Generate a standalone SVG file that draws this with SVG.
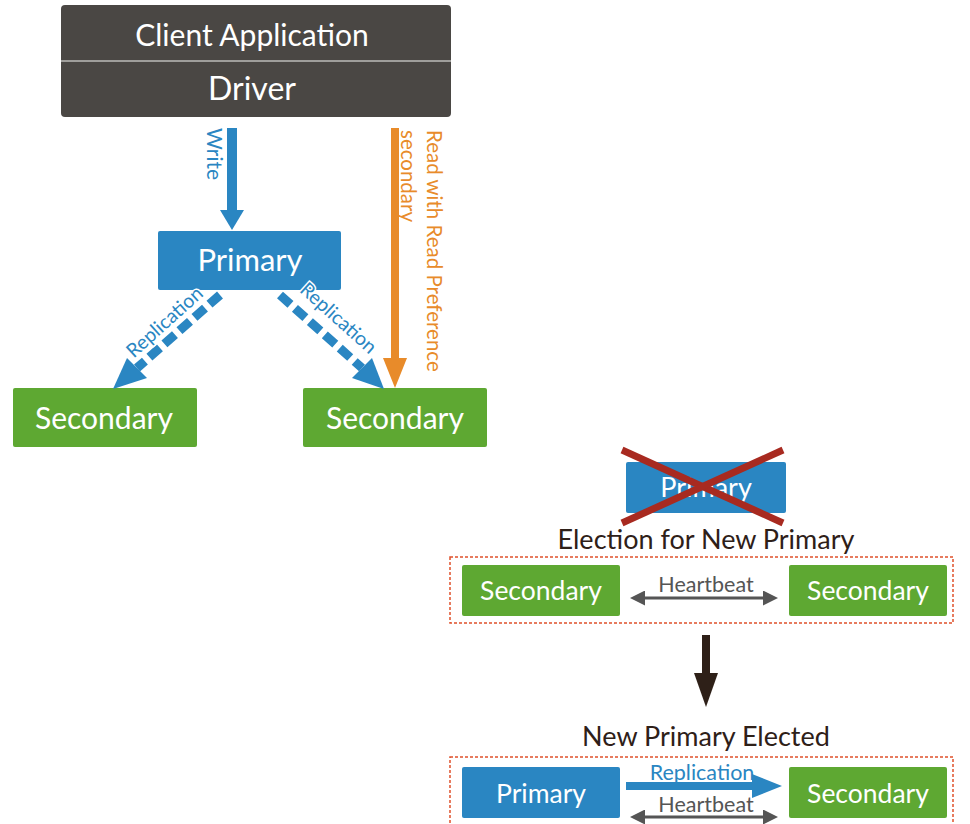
<svg xmlns="http://www.w3.org/2000/svg" width="970" height="824" viewBox="0 0 970 824">
<style>
text{font-family:Lato,"Open Sans",sans-serif;}
.wt{fill:#fff;text-anchor:middle;}
.blue{fill:#2a86c2;}
.green{fill:#5ea832;}
.title{fill:#2e2018;font-size:27px;text-anchor:middle;}
.hb{fill:#555;font-size:21.5px;text-anchor:middle;}
.box{fill:none;stroke:#e0502a;stroke-width:1.5;stroke-dasharray:3 2;}
</style>
<defs>
<marker id="hbs" viewBox="0 0 10 10" refX="0" refY="5" markerWidth="5" markerHeight="5" orient="auto-start-reverse" markerUnits="strokeWidth"><path d="M0,0 L10,5 L0,10 z" fill="#555"/></marker>
</defs>

<g id="client">
<rect x="61" y="5" width="390" height="112" rx="4" fill="#4a4744"/>
<line x1="61" y1="61" x2="451" y2="61" stroke="#bdbbb8" stroke-width="1.5"/>
<text class="wt" x="252" y="46" font-size="30">Client Application</text>
<text class="wt" x="252" y="100" font-size="32">Driver</text>
</g>

<g id="primary1">
<rect x="158" y="231" width="183" height="59" rx="2" class="blue"/>
<text class="wt" x="250" y="271" font-size="31">Primary</text>
</g>
<g id="secondary1">
<rect x="13" y="388" width="184" height="59" rx="2" class="green"/>
<text class="wt" x="104" y="429" font-size="30">Secondary</text>
</g>
<g id="secondary2">
<rect x="303" y="388" width="184" height="59" rx="2" class="green"/>
<text class="wt" x="395" y="429" font-size="30">Secondary</text>
</g>

<g id="connectors">
<!-- write -->
<rect x="227" y="128" width="10" height="83" fill="#2a86c2"/>
<path d="M220,210 L244,210 L232,230 z" fill="#2a86c2"/>
<text transform="translate(207,128) rotate(90)" font-size="21" class="blue">Write</text>
<!-- read -->
<rect x="391" y="128" width="8" height="232" fill="#e88b2a"/>
<path d="M383,358 L407,358 L395,388 z" fill="#e88b2a"/>
<text transform="translate(427,130) rotate(90)" font-size="20.5" fill="#e88b2a">Read with Read Preference</text>
<text transform="translate(401,130) rotate(90)" font-size="20.5" fill="#e88b2a">secondary</text>
<!-- replication dashed -->
<line x1="220" y1="295" x2="137" y2="368" stroke="#2a86c2" stroke-width="9" stroke-dasharray="14 6"/>
<path d="M127,358 L147,378 L113,389 z" fill="#2a86c2"/>
<line x1="280" y1="295" x2="362" y2="368" stroke="#2a86c2" stroke-width="9" stroke-dasharray="14 6"/>
<path d="M352,378 L372,358 L384,389 z" fill="#2a86c2"/>
<text transform="translate(169,327) rotate(-42)" font-size="19.5" class="blue" text-anchor="middle" stroke="#fff" stroke-width="3" paint-order="stroke">Replication</text>
<text transform="translate(334,323) rotate(42)" font-size="19.5" class="blue" text-anchor="middle" stroke="#fff" stroke-width="3" paint-order="stroke">Replication</text>
<!-- heartbeat 1 -->
<line x1="645" y1="598" x2="763" y2="598" stroke="#555" stroke-width="3" marker-start="url(#hbs)" marker-end="url(#hbs)"/>
<text class="hb" x="706" y="592">Heartbeat</text>
<!-- down arrow -->
<rect x="702" y="635" width="8" height="40" fill="#2e2018"/>
<path d="M694,673 L718,673 L706,707 z" fill="#2e2018"/>
<!-- replication 2 -->
<rect x="626" y="782" width="128" height="8" fill="#2a86c2"/>
<path d="M752,774 L782,786 L752,798 z" fill="#2a86c2"/>
<text x="702" y="780" font-size="21.5" class="blue" text-anchor="middle">Replication</text>
<!-- heartbeat 2 -->
<line x1="645" y1="817" x2="763" y2="817" stroke="#555" stroke-width="3" marker-start="url(#hbs)" marker-end="url(#hbs)"/>
<text class="hb" x="706" y="812">Heartbeat</text>
</g>

<g id="oldprimary">
<rect x="626" y="462" width="160" height="51" rx="2" class="blue"/>
<text class="wt" x="706" y="497" font-size="27">Primary</text>
<line x1="622" y1="450" x2="783" y2="523" stroke="#a82a20" stroke-width="7"/>
<line x1="783" y1="450" x2="622" y2="523" stroke="#a82a20" stroke-width="7"/>
</g>

<g id="election">
<text class="title" x="706" y="549">Election for New Primary</text>
<rect class="box" x="450" y="557" width="503" height="66"/>
</g>
<g id="secondary3">
<rect x="462" y="565" width="158" height="51" rx="2" class="green"/>
<text class="wt" x="541" y="600" font-size="26.5">Secondary</text>
</g>
<g id="secondary4">
<rect x="789" y="565" width="158" height="51" rx="2" class="green"/>
<text class="wt" x="868" y="600" font-size="26.5">Secondary</text>
</g>

<g id="elected">
<text class="title" x="706" y="746">New Primary Elected</text>
<rect class="box" x="450" y="757" width="503" height="80"/>
</g>
<g id="primary2">
<rect x="462" y="767" width="158" height="51" rx="2" class="blue"/>
<text class="wt" x="541" y="803" font-size="26.5">Primary</text>
</g>
<g id="secondary5">
<rect x="789" y="767" width="158" height="51" rx="2" class="green"/>
<text class="wt" x="868" y="803" font-size="26.5">Secondary</text>
</g>
</svg>
